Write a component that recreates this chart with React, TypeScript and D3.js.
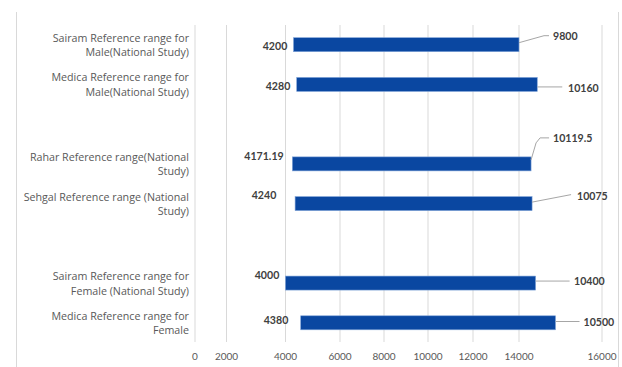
import React from "react";
import * as d3 from "d3";

// Reference ranges (lower bound + span of the range)
const categories = [
  "Sairam Reference range for\nMale(National Study)",
  "Medica Reference range for\nMale(National Study)",
  "Rahar Reference range(National\nStudy)",
  "Sehgal Reference range (National\nStudy)",
  "Sairam Reference range for\nFemale (National Study)",
  "Medica Reference range for\nFemale",
];
const lowValues = [4200, 4280, 4171.19, 4240, 4000, 4380];
const highValues = [9800, 10160, 10119.5, 10075, 10400, 10500];
const lowLabels = ["4200", "4280", "4171.19", "4240", "4000", "4380"];
const highLabels = ["9800", "10160", "10119.5", "10075", "10400", "10500"];
const tickValues = [0, 2000, 4000, 6000, 8000, 10000, 12000, 14000, 16000];

// Row slots: blank rows separate the three groups
const slots = ["r0", "r1", "g0", "r2", "r3", "g1", "r4", "r5"];
const rowSlot = ["r0", "r1", "r2", "r3", "r4", "r5"];

// Piecewise value scale: knot values and their pixel positions
const knotValues = [0, 2000, 4000, 4400, 6000, 8000, 10000, 12000, 14000, 16000];
const knotPixels = [195, 226.5, 285.5, 301.5, 340, 384, 428, 473, 519, 602];

// Label placement for the upper-bound labels and their leader lines
const highLabelLayout = [
  { tx: 553, ty: 36, path: (x: number, y: number) => `M${x},${y - 2} L${x + 25},${y - 9} L${x + 30},${y - 9}` },
  { tx: 568, ty: 87.5, path: (x: number, y: number) => `M${x},${y + 2.5} L${x + 25},${y + 2.5}` },
  { tx: 553, ty: 137.7, path: (x: number, y: number) => `M${x},${y - 4} L${x + 5},${y - 21} L${x + 9},${y - 26} L${x + 18},${y - 26}` },
  { tx: 577, ty: 196, path: (x: number, y: number) => `M${x},${y - 1.5} L${x + 39},${y - 9}` },
  { tx: 574, ty: 281, path: (x: number, y: number) => `M${x},${y - 2} L${x + 34},${y - 2}` },
  { tx: 583.5, ty: 321.7, path: (x: number, y: number) => `M${x},${y - 1.3} L${x + 24},${y - 1.3}` },
];
const lowLabelLayout = [
  { cx: 275, cy: 46 },
  { cx: 278, cy: 85.7 },
  { cx: 264, cy: 155.7 },
  { cx: 264, cy: 195 },
  { cx: 267, cy: 275 },
  { cx: 276, cy: 320 },
];

export default function App() {
  const width = 622;
  const height = 367;
  const x = d3.scaleLinear().domain(knotValues).range(knotPixels);
  const y = d3.scalePoint<string>().domain(slots).range([44.7, 322.8]);
  const barH = 14;
  const gridTop = 25;
  const gridBottom = 342;
  const numFont = "Lato, 'Open Sans', sans-serif";
  const catFont = "'Open Sans', Lato, sans-serif";

  return (
    <svg
      width={width}
      height={height}
      style={{ position: "absolute", left: 0, top: 0, background: "#fff" }}
    >
      {/* outer frame */}
      <line x1={16.5} x2={16.5} y1={12} y2={height} stroke="#d9d9d9" />
      <line x1={618.5} x2={618.5} y1={12} y2={height} stroke="#d9d9d9" />

      {/* vertical gridlines */}
      {tickValues.map((t) => (
        <line
          key={t}
          x1={x(t)}
          x2={x(t)}
          y1={gridTop}
          y2={gridBottom}
          stroke="#d9d9d9"
          strokeWidth={1}
        />
      ))}

      {/* tick labels */}
      {tickValues.map((t) => (
        <text
          key={t}
          x={x(t)}
          y={355.5}
          textAnchor="middle"
          dominantBaseline="central"
          fontFamily={numFont}
          fontSize={10}
          fill="#595959"
        >
          {t}
        </text>
      ))}

      {/* category labels */}
      {categories.map((c, i) => {
        const cy = y(rowSlot[i])!;
        const lines = c.split("\n");
        return (
          <text
            key={c}
            textAnchor="end"
            fontFamily={catFont}
            fontSize={10.7}
            fill="#595959"
          >
            {lines.map((ln, j) => (
              <tspan
                key={j}
                x={189}
                y={cy - 7 + j * 14.5}
                dominantBaseline="central"
              >
                {ln}
              </tspan>
            ))}
          </text>
        );
      })}

      {/* range bars: stacked on top of the lower bound */}
      {lowValues.map((lo, i) => {
        const cy = y(rowSlot[i])!;
        const x0 = x(lo);
        const x1 = x(lo + highValues[i]);
        return (
          <rect
            key={i}
            x={x0}
            y={cy - barH / 2}
            width={x1 - x0}
            height={barH}
            fill="#0A47A1"
            stroke="#7FA3D8"
            strokeWidth={0.6}
          />
        );
      })}

      {/* lower-bound labels */}
      {lowLabels.map((l, i) => (
        <text
          key={i}
          x={lowLabelLayout[i].cx}
          y={lowLabelLayout[i].cy}
          textAnchor="middle"
          dominantBaseline="central"
          fontFamily={numFont}
          fontWeight="bold"
          fontSize={10.6}
          fill="#404040"
        >
          {l}
        </text>
      ))}

      {/* upper-bound labels with leader lines */}
      {highLabels.map((l, i) => {
        const cy = y(rowSlot[i])!;
        const xe = x(lowValues[i] + highValues[i]);
        const lay = highLabelLayout[i];
        return (
          <g key={i}>
            <path d={lay.path(xe, cy)} fill="none" stroke="#a6a6a6" strokeWidth={1} />
            <text
              x={lay.tx}
              y={lay.ty}
              dominantBaseline="central"
              fontFamily={numFont}
              fontWeight="bold"
              fontSize={10.6}
              fill="#404040"
            >
              {l}
            </text>
          </g>
        );
      })}
    </svg>
  );
}
